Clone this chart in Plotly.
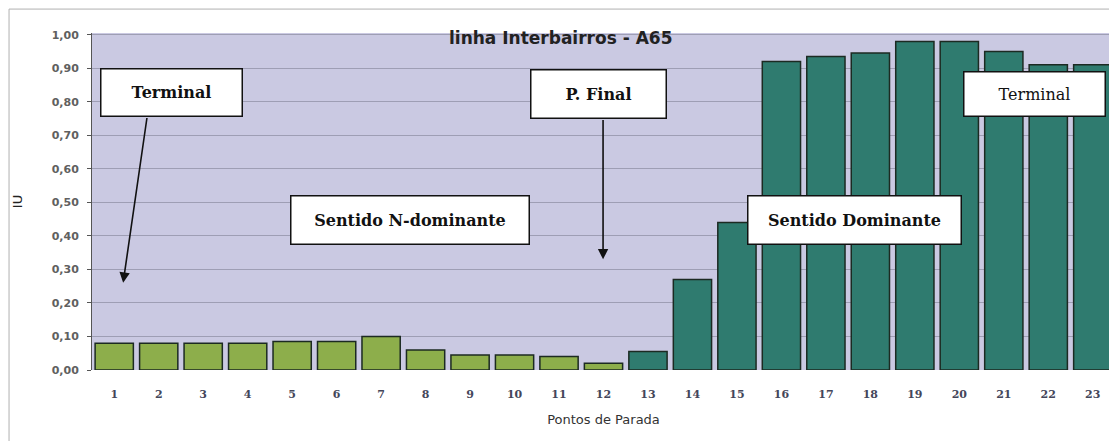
import plotly.graph_objects as go

stops = list(range(1, 24))
iu_values = [0.08, 0.08, 0.08, 0.08, 0.085, 0.085, 0.10, 0.06, 0.045, 0.045, 0.04, 0.02,
             0.055, 0.27, 0.44, 0.92, 0.935, 0.945, 0.98, 0.98, 0.95, 0.91, 0.91]
direction = ["N"] * 12 + ["D"] * 11
y_ticks = [0.0, 0.1, 0.2, 0.3, 0.4, 0.5, 0.6, 0.7, 0.8, 0.9, 1.0]

GREEN = "#8dae4b"
TEAL = "#2f7b6f"
colors = [GREEN if d == "N" else TEAL for d in direction]

fig = go.Figure()
fig.add_trace(go.Bar(
    x=stops, y=iu_values, width=0.86,
    marker=dict(color=colors, line=dict(color="#1c2a22", width=1.5)),
    showlegend=False,
))

serif = "DejaVu Serif, Liberation Serif, serif"
sans = "DejaVu Sans, Liberation Sans, sans-serif"

def box(text, x, y, w, h):
    fig.add_annotation(x=x, y=y, xref="x", yref="y", text=text, showarrow=False,
                       bgcolor="white", bordercolor="#111111", borderwidth=1.5,
                       borderpad=2, width=w - 7, height=h - 7,
                       font=dict(family=serif, size=16, color="#111111"))

def arrow(x0, y0, x1, y1):
    fig.add_annotation(x=x1, y=y1, ax=x0, ay=y0, xref="x", yref="y", axref="x", ayref="y",
                       text="", showarrow=True, arrowhead=2, arrowsize=1.3,
                       arrowwidth=1.6, arrowcolor="#111111")

arrow(1.74, 0.756, 1.20, 0.26)
arrow(11.99, 0.75, 11.99, 0.33)
box("<b>Terminal</b>", 2.29, 0.829, 143, 49)
box("<b>P. Final</b>", 11.89, 0.824, 137, 50)
box("<b>Sentido N-dominante</b>", 7.65, 0.446, 240, 50)
box("<b>Sentido Dominante</b>", 17.64, 0.446, 215, 50)
box("Terminal", 21.69, 0.824, 143, 46)

fig.add_annotation(x=11.04, y=0.985, xref="x", yref="paper", yanchor="middle",
                   text="<b>linha Interbairros - A65</b>",
                   showarrow=False, font=dict(family=sans, size=17, color="#222222"))

# outer chart frame
fig.add_shape(type="rect", xref="paper", yref="paper",
              x0=-0.0811, x1=1.003, y0=-0.3, y1=1.071,
              line=dict(color="#b0b0b0", width=1), layer="below")

fig.update_layout(
    width=1109, height=433,
    margin=dict(l=84, r=2, t=25, b=71),
    paper_bgcolor="white",
    plot_bgcolor="#cac9e2",
    separators=",.",
    bargap=0.14,
    xaxis=dict(range=[0.5, 23.5], tickvals=stops, ticktext=[str(s) for s in stops],
               showgrid=False, zeroline=False, showline=False, ticks="",
               ticklabelstandoff=16,
               tickfont=dict(family=serif, size=11, color="#44465a", weight="bold"),
               title=dict(text="Pontos de Parada", standoff=14,
                          font=dict(family=sans, size=13, color="#333333"))),
    yaxis=dict(range=[0, 1.005], tickvals=y_ticks, tickformat=".2f",
               showgrid=True, gridcolor="#9e9eb4", gridwidth=1, zeroline=False,
               showline=True, linecolor="#555555", linewidth=1, ticks="outside", ticklen=4,
               tickcolor="#555555", ticklabelstandoff=6,
               tickfont=dict(family=sans, size=11, color="#606060", weight="bold"),
               title=dict(text="IU", standoff=26,
                          font=dict(family=sans, size=13, color="#222222"))),
)

fig.write_html("out.html")
